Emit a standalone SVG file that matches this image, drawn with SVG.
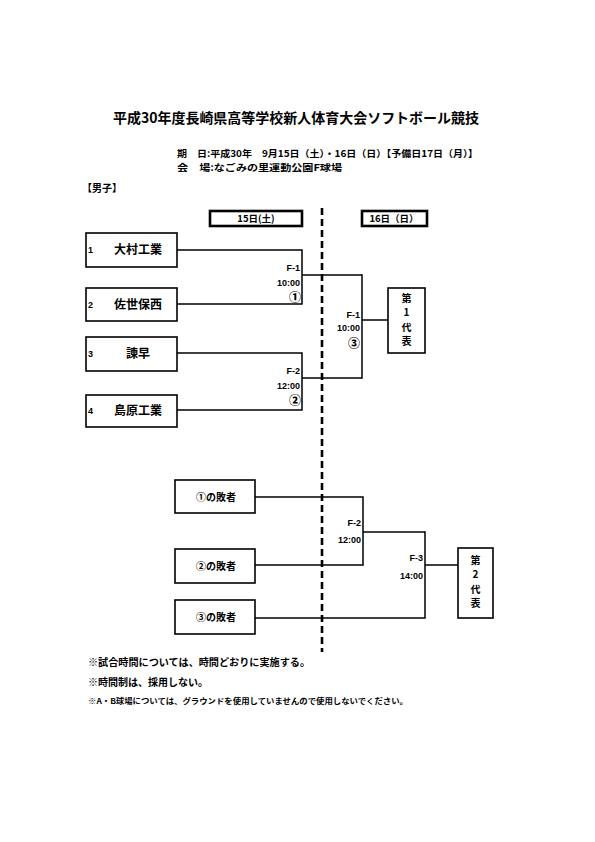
<svg xmlns="http://www.w3.org/2000/svg" width="595" height="842" viewBox="0 0 595 842">
<style>
text{font-family:"Noto Sans CJK JP","Liberation Sans",sans-serif;font-weight:bold;fill:#000}
.lab{font-family:"Liberation Sans","Noto Sans CJK JP",sans-serif;font-size:9px;text-anchor:end}
.cir{font-family:"Noto Sans CJK JP",sans-serif;font-size:12px;text-anchor:end;font-weight:900}
.box{fill:#fff;stroke:#000;stroke-width:1.6}
.day{fill:#fff;stroke:#000;stroke-width:2.6}
.ln{fill:none;stroke:#000;stroke-width:1.5}
.team{font-size:12px;text-anchor:middle}
.num{font-size:9px;font-family:"Liberation Sans",sans-serif}
.los{font-size:10px;text-anchor:middle}
.rep{font-size:10px;text-anchor:middle}
</style>
<rect width="595" height="842" fill="#fff"/>
<g id="title">
<text x="296" y="123" font-size="14" text-anchor="middle" textLength="366" lengthAdjust="spacingAndGlyphs">平成30年度長崎県高等学校新人体育大会ソフトボール競技</text>
<text x="177" y="157" font-size="9.5" textLength="301" lengthAdjust="spacingAndGlyphs">期　日:平成30年　9月15日（土）・16日（日）【予備日17日（月）】</text>
<text x="177" y="171" font-size="9.5" textLength="165" lengthAdjust="spacingAndGlyphs">会　場:なごみの里運動公園F球場</text>
<text x="82" y="192" font-size="10">【男子】</text>
</g>
<g id="day1"><rect class="day" x="210" y="211" width="92" height="15"/><text x="256" y="222" font-size="9.5" text-anchor="middle">15日(土)</text></g>
<g id="day2"><rect class="day" x="362" y="211" width="65" height="15"/><text x="394" y="222" font-size="9.5" text-anchor="middle">16日（日）</text></g>
<g id="connectors">
<line x1="322" y1="208" x2="322" y2="652" stroke="#000" stroke-width="2.6" stroke-dasharray="7,4"/>
<polyline class="ln" points="177,250 302,250 302,304 177,304"/>
<polyline class="ln" points="177,353 302,353 302,410 177,410"/>
<line class="ln" x1="302" y1="275" x2="362" y2="275"/>
<line class="ln" x1="302" y1="378" x2="362" y2="378"/>
<line class="ln" x1="362" y1="274.3" x2="362" y2="378.7"/>
<line class="ln" x1="362" y1="320" x2="388" y2="320"/>
<polyline class="ln" points="255,497 363,497 363,565 255,565"/>
<line class="ln" x1="363" y1="532" x2="425" y2="532"/>
<polyline class="ln" points="255,618 425,618 425,531.3"/>
<line class="ln" x1="425" y1="565" x2="458" y2="565"/>
</g>
<g id="team1"><rect class="box" x="86" y="233" width="91" height="34"/><text class="num" x="88" y="253">1</text><text class="team" x="138" y="254">大村工業</text></g>
<g id="team2"><rect class="box" x="86" y="288" width="91" height="33"/><text class="num" x="88" y="308">2</text><text class="team" x="138" y="309">佐世保西</text></g>
<g id="team3"><rect class="box" x="86" y="337" width="91" height="34"/><text class="num" x="88" y="357">3</text><text class="team" x="138" y="358">諫早</text></g>
<g id="team4"><rect class="box" x="86" y="395" width="91" height="32"/><text class="num" x="88" y="414">4</text><text class="team" x="138" y="415">島原工業</text></g>
<g id="match1"><text class="lab" x="300" y="271">F-1</text><text class="lab" x="300" y="286">10:00</text><text class="cir" x="301" y="302">①</text></g>
<g id="match2"><text class="lab" x="300" y="374">F-2</text><text class="lab" x="300" y="389">12:00</text><text class="cir" x="301" y="405">②</text></g>
<g id="match3"><text class="lab" x="360" y="318">F-1</text><text class="lab" x="360" y="331">10:00</text><text class="cir" x="360" y="348">③</text></g>
<g id="rep1"><rect class="box" x="388" y="288" width="37" height="65"/><text class="rep" x="406.5" y="302">第</text><text class="rep" x="406.5" y="316">1</text><text class="rep" x="406.5" y="331">代</text><text class="rep" x="406.5" y="345">表</text></g>
<g id="loser1"><rect class="box" x="175" y="480" width="80" height="33"/><text class="los" x="216" y="501">①の敗者</text></g>
<g id="loser2"><rect class="box" x="175" y="549" width="80" height="34"/><text class="los" x="216" y="570">②の敗者</text></g>
<g id="loser3"><rect class="box" x="175" y="600" width="80" height="34"/><text class="los" x="216" y="621">③の敗者</text></g>
<g id="match4"><text class="lab" x="361" y="526">F-2</text><text class="lab" x="361" y="543">12:00</text></g>
<g id="match5"><text class="lab" x="423" y="561">F-3</text><text class="lab" x="423" y="579">14:00</text></g>
<g id="rep2"><rect class="box" x="458" y="548" width="35" height="70"/><text class="rep" x="475.5" y="564">第</text><text class="rep" x="475.5" y="578">2</text><text class="rep" x="475.5" y="593">代</text><text class="rep" x="475.5" y="607">表</text></g>
<g id="notes">
<text x="88" y="666" font-size="10" textLength="222" lengthAdjust="spacingAndGlyphs">※試合時間については、時間どおりに実施する。</text>
<text x="88" y="686" font-size="10">※時間制は、採用しない。</text>
<text x="88" y="704" font-size="7.5" textLength="320" lengthAdjust="spacingAndGlyphs">※A・B球場については、グラウンドを使用していませんので使用しないでください。</text>
</g>
</svg>
